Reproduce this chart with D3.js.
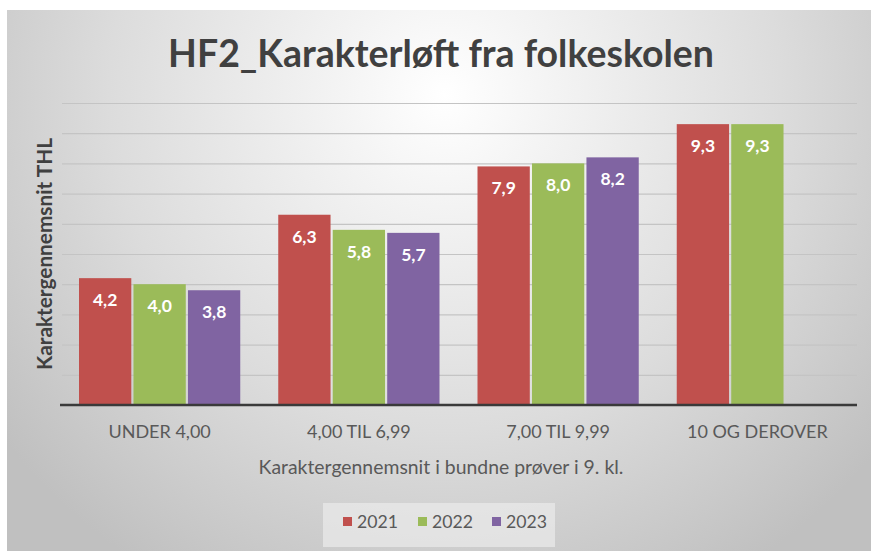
<!DOCTYPE html>
<html><head><meta charset="utf-8">
<script src="https://cdn.jsdelivr.net/npm/d3@7"></script>
<style>
html,body{margin:0;padding:0;background:#fff;}
svg{display:block;}
text{font-family:Lato,"Open Sans","Noto Sans",sans-serif;}
</style></head>
<body>
<script>
const categories = ["UNDER 4,00", "4,00 TIL 6,99", "7,00 TIL 9,99", "10 OG DEROVER"];
const seriesNames = ["2021", "2022", "2023"];
const values2021 = [4.2, 6.3, 7.9, 9.3];
const values2022 = [4.0, 5.8, 8.0, 9.3];
const values2023 = [3.8, 5.7, 8.2, null];
const colors = ["#c0504d", "#9bbb59", "#8064a2"];
const yTicks = [0,1,2,3,4,5,6,7,8,9,10];
const title = "HF2_Karakterløft fra folkeskolen";
const yTitle = "Karaktergennemsnit THL";
const xTitle = "Karaktergennemsnit i bundne prøver i 9. kl.";

const seriesValues = [values2021, values2022, values2023];
const W = 871, H = 551;
const svg = d3.select("body").append("svg").attr("width", W).attr("height", H);

function fit(sel, target){
  const n = sel.node();
  const len = n.getComputedTextLength();
  const fs = parseFloat(sel.attr("font-size"));
  if (len > 0) sel.attr("font-size", (fs*target/len).toFixed(2));
  return sel;
}

const defs = svg.append("defs");
const rg = defs.append("radialGradient").attr("id","bg")
  .attr("gradientUnits","userSpaceOnUse")
  .attr("cx",445).attr("cy",95).attr("r",560);
rg.append("stop").attr("offset","0").attr("stop-color","#ffffff");
rg.append("stop").attr("offset","0.2").attr("stop-color","#f3f3f3");
rg.append("stop").attr("offset","0.6").attr("stop-color","#dcdcdc");
rg.append("stop").attr("offset","1").attr("stop-color","#c0c0c0");

svg.append("rect").attr("x",7).attr("y",10).attr("width",W-7).attr("height",H-10).attr("fill","url(#bg)");

const plotL = 60, plotR = 857, plotT = 103, plotB = 405;
const y = d3.scaleLinear().domain([0,10]).range([plotB, plotT]);
const x0 = d3.scaleBand().domain(categories).range([plotL, plotR]).padding(0);
const x1 = d3.scaleBand().domain(seriesNames).range([19, x0.bandwidth()-19]).paddingInner(0.04);

// gridlines
const gy = svg.append("g").attr("transform",`translate(${plotR},0)`)
  .call(d3.axisRight(y).tickValues(yTicks.slice(1)).tickSize(-(plotR-62)).tickFormat(""));
gy.select(".domain").remove();
gy.selectAll("line").attr("stroke","#c4c4c4").attr("stroke-width",1.2);

// bars
const groups = svg.append("g").selectAll("g").data(categories).join("g")
  .attr("transform", d => `translate(${x0(d)},0)`);
groups.each(function(cat, ci){
  const g = d3.select(this);
  seriesNames.forEach((s, si) => {
    const v = seriesValues[si][ci];
    if (v == null) return;
    g.append("rect").attr("x", x1(s)).attr("y", y(v))
      .attr("width", x1.bandwidth()).attr("height", y(0)-y(v))
      .attr("fill", colors[si]);
    g.append("text").attr("x", x1(s)+x1.bandwidth()/2).attr("y", y(v)+28)
      .attr("text-anchor","middle").attr("fill","#ffffff")
      .attr("font-weight","bold").attr("font-size",17.5)
      .text(d3.format(".1f")(v).replace(".", ","));
  });
});

// x axis
const gx = svg.append("g").attr("transform",`translate(0,${plotB})`)
  .call(d3.axisBottom(x0).tickSize(0).tickPadding(20));
gx.select(".domain").attr("stroke","#3a3a3a").attr("stroke-width",2.5)
  .attr("d",`M${plotL},0H${plotR}`);
gx.selectAll("text").attr("font-size",18).attr("fill","#595959")
  .attr("font-family","Lato,'Open Sans',sans-serif");

// titles
fit(svg.append("text").attr("x",441).attr("y",67).attr("text-anchor","middle")
  .attr("font-size",37).attr("font-weight","bold").attr("fill","#404040").text(title), 546);
fit(svg.append("text").attr("transform","translate(52,254) rotate(-90)").attr("text-anchor","middle")
  .attr("font-size",19).attr("font-weight","bold").attr("fill","#404040").text(yTitle), 232);
fit(svg.append("text").attr("x",441).attr("y",474).attr("text-anchor","middle")
  .attr("font-size",19).attr("fill","#595959").text(xTitle), 365);

// legend
svg.append("rect").attr("x",323).attr("y",503).attr("width",232).attr("height",44)
  .attr("fill","#ebebeb").attr("opacity",0.7);
const legX = [343, 418, 492];
seriesNames.forEach((s,i) => {
  svg.append("rect").attr("x",legX[i]).attr("y",517).attr("width",9).attr("height",9).attr("fill",colors[i]);
  fit(svg.append("text").attr("x",legX[i]+14).attr("y",528).attr("font-size",18).attr("fill","#595959").text(s), 41);
});
</script>
</body></html>
